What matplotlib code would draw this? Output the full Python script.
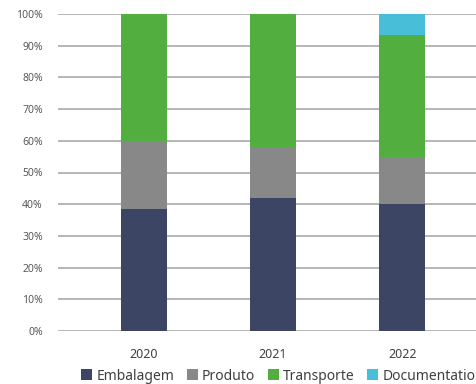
import matplotlib
matplotlib.use("Agg")
import matplotlib.pyplot as plt
import numpy as np

plt.rcParams["font.family"] = ["Noto Sans", "DejaVu Sans"]

# ── Data ──
years = ["2020", "2021", "2022"]
embalagem = [38.5, 42.0, 40.0]
produto = [21.5, 16.0, 15.0]
transporte = [40.0, 42.0, 38.5]
documentation = [0.0, 0.0, 6.5]

series = [
    ("Embalagem", embalagem, "#3c4664"),
    ("Produto", produto, "#888888"),
    ("Transporte", transporte, "#52ae3f"),
    ("Documentation", documentation, "#48bed8"),
]

W, H = 477, 384
fig = plt.figure(figsize=(W / 100, H / 100), dpi=100)
fig.patch.set_facecolor("white")
ax = fig.add_axes([58 / W, (H - 331) / H, 1 - 58 / W, (331 - 14) / H])

x = np.arange(len(years))
bottom = np.zeros(len(years))
for name, vals, color in series:
    ax.bar(x, vals, width=0.357, bottom=bottom, color=color, label=name,
           zorder=3)
    bottom += np.array(vals)

ax.set_ylim(0, 100)
ax.set_xlim(-0.667, 2.58)
ax.set_yticks(np.arange(0, 101, 10))
ax.set_yticklabels([f"{v}%" for v in range(0, 101, 10)])
ax.set_xticks(x)
ax.set_xticklabels(years)
ax.grid(axis="y", color="#b0b0b0", linewidth=1.3, zorder=0)
ax.tick_params(axis="y", length=0, pad=11, labelsize=7.5, labelcolor="#595959")
ax.tick_params(axis="x", length=0, pad=12, labelsize=9, labelcolor="#404040")
for s in ax.spines.values():
    s.set_visible(False)

fig.legend(loc="center left", bbox_to_anchor=(81 / W, 1 - 376 / H),
           ncol=4, frameon=False, fontsize=10, handlelength=0.8,
           handleheight=0.8, handletextpad=0.3, columnspacing=0.9,
           borderaxespad=0, borderpad=0, labelcolor="#404040")

fig.savefig("out.png", dpi=100, facecolor="white")
